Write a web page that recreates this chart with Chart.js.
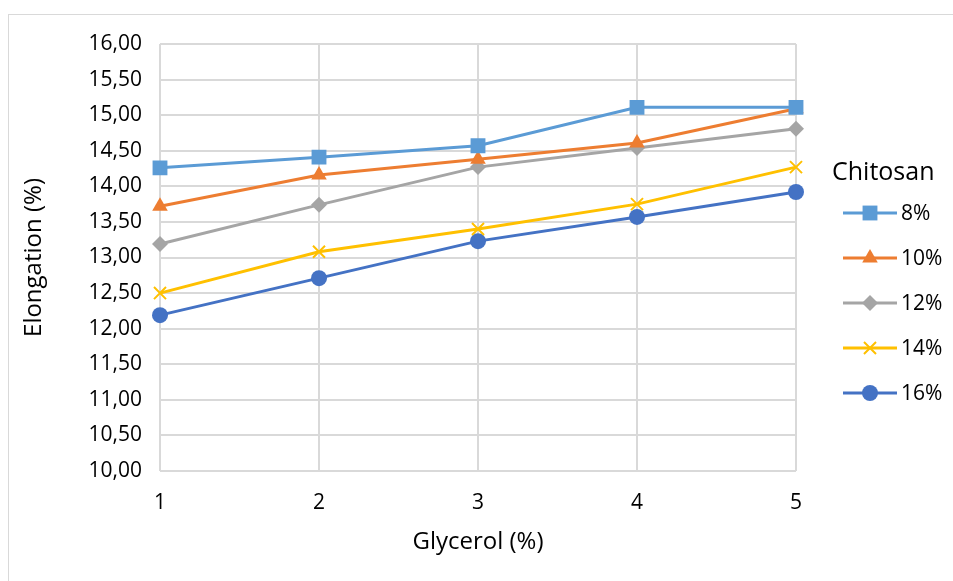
<!DOCTYPE html>
<html>
<head>
<meta charset="utf-8">
<script src="https://cdn.jsdelivr.net/npm/chart.js@4"></script>
<style>
  html, body { margin: 0; padding: 0; background: #fff; overflow: hidden; }
  .frame { position: absolute; left: 8px; top: 14px; width: 1000px; height: 620px; border: 1px solid #d9d9d9; }
  .wrap { position: absolute; left: 0; top: 0; width: 953px; height: 581px; }
</style>
</head>
<body>
<div class="frame"></div>
<div class="wrap"><canvas id="myChart" width="953" height="581"></canvas></div>
<script>
// glycerol levels on the x axis
const glycerol = ['1', '2', '3', '4', '5']
// chitosan series
const seriesNames = ['8%', '10%', '12%', '14%', '16%']
const chitosan8 = [14.26, 14.41, 14.57, 15.11, 15.11]
const chitosan10 = [13.72, 14.16, 14.38, 14.61, 15.09]
const chitosan12 = [13.19, 13.74, 14.27, 14.54, 14.81]
const chitosan14 = [12.50, 13.08, 13.40, 13.75, 14.27]
const chitosan16 = [12.19, 12.71, 13.23, 13.57, 13.92]
const yTicks = [10, 16, 0.5] // min, max, step

const colors = ['#5B9BD5', '#ED7D31', '#A5A5A5', '#FFC000', '#4472C4']
const markers = ['rect', 'triangle', 'rectRot', 'crossRot', 'circle']
const radii = [10.5, 9, 8, 8.5, 8]
const FONT = "'Open Sans', sans-serif"

let allValues = [chitosan8, chitosan10, chitosan12, chitosan14, chitosan16]
let datasets = allValues.map((vals, i) => ({
  label: seriesNames[i],
  data: vals,
  borderColor: colors[i],
  backgroundColor: colors[i],
  pointBackgroundColor: colors[i],
  pointBorderColor: colors[i],
  pointBorderWidth: markers[i] === 'crossRot' ? 2 : 0,
  pointStyle: markers[i],
  pointRadius: radii[i],
  pointHoverRadius: radii[i],
  borderWidth: 3,
  tension: 0
}))

// legend drawn beside the plot, Excel style (line + marker)
const sideLegend = {
  id: 'sideLegend',
  afterDraw(chart) {
    let ctx = chart.ctx
    let area = chart.chartArea
    let x0 = area.right + 47
    ctx.save()
    ctx.fillStyle = '#000'
    ctx.textBaseline = 'middle'
    ctx.textAlign = 'left'
    ctx.font = `25px ${FONT}`
    ctx.fillText('Chitosan', area.right + 36, 173)
    ctx.font = `21px ${FONT}`
    chart.data.datasets.forEach((ds, i) => {
      let y = 213 + i * 45
      ctx.strokeStyle = ds.borderColor
      ctx.lineWidth = 3
      ctx.beginPath()
      ctx.moveTo(x0, y)
      ctx.lineTo(x0 + 54, y)
      ctx.stroke()
      ctx.fillStyle = ds.backgroundColor
      ctx.strokeStyle = ds.borderColor
      ctx.lineWidth = ds.pointBorderWidth || 1
      Chart.helpers.drawPoint(ctx, {pointStyle: ds.pointStyle, radius: ds.pointRadius, rotation: 0, borderWidth: ds.pointBorderWidth}, x0 + 27, y)
      ctx.fillStyle = '#000'
      ctx.fillText(ds.label, x0 + 58, y + 1)
    })
    ctx.restore()
  }
}

let ctx = document.querySelector('#myChart').getContext('2d')
let myLineChart = new Chart(ctx, {
  type: 'line',
  data: { labels: glycerol, datasets: datasets },
  plugins: [sideLegend],
  options: {
    responsive: false,
    animation: false,
    layout: { padding: { left: 0, top: 44, right: 157, bottom: 0 } },
    plugins: {
      legend: { display: false },
      tooltip: { enabled: false }
    },
    scales: {
      x: {
        offset: false,
        grid: { color: '#d9d9d9', lineWidth: 2, drawTicks: false },
        border: { display: false },
        ticks: { color: '#000', padding: 19, font: { family: FONT, size: 21 } },
        title: { display: true, text: 'Glycerol (%)', color: '#000', font: { family: FONT, size: 24 }, padding: { top: 0, bottom: 24 } },
        afterFit: scale => { scale.height = 110 }
      },
      y: {
        min: yTicks[0],
        max: yTicks[1],
        grid: { color: '#d9d9d9', lineWidth: 2, drawTicks: false },
        border: { display: false },
        ticks: {
          stepSize: yTicks[2],
          color: '#000',
          padding: 18,
          font: { family: FONT, size: 21 },
          callback: v => v.toFixed(2).replace('.', ',')
        },
        title: { display: true, text: 'Elongation (%)', color: '#000', font: { family: FONT, size: 24 }, padding: { top: 20, bottom: 0 } },
        afterFit: scale => { scale.width = 160 }
      }
    }
  }
})
</script>
</body>
</html>
